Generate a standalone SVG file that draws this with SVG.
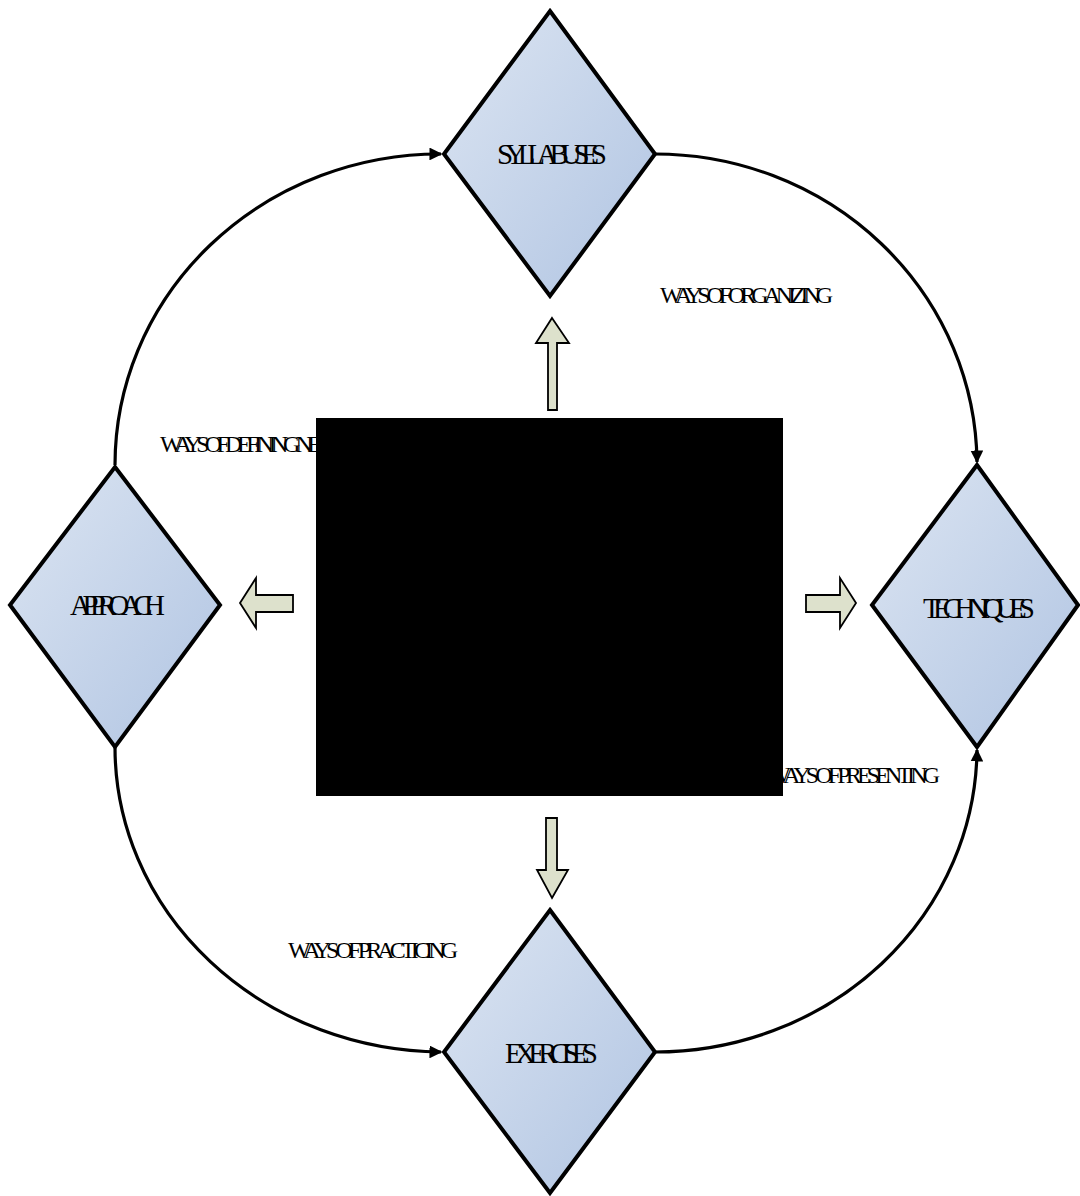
<svg xmlns="http://www.w3.org/2000/svg" width="1080" height="1196" viewBox="0 0 1080 1196">
<defs>
<linearGradient id="dg" x1="0" y1="0" x2="1" y2="1">
<stop offset="0" stop-color="#dce5f2"/>
<stop offset="1" stop-color="#b0c4e2"/>
</linearGradient>
<marker id="ah" viewBox="0 0 10 10" refX="9" refY="5" markerWidth="4" markerHeight="4" orient="auto" markerUnits="strokeWidth">
<path d="M0,0 L10,5 L0,10 Z" fill="#000"/>
</marker>
<style>
.dia{fill:url(#dg);stroke:#000;stroke-width:4;stroke-linejoin:miter}
.con{fill:none;stroke:#000;stroke-width:3.2}
.blk{fill:#dde1cc;stroke:#000;stroke-width:1.8}
.lbl{font-family:"Liberation Serif","Times New Roman",serif;font-size:29px;fill:#000}
.side{font-family:"Liberation Serif","Times New Roman",serif;font-size:24px;fill:#000}
</style>
</defs>
<rect width="1080" height="1196" fill="#fff"/>
<g id="connectors">
<path class="con" d="M115,465 A325,311 0 0 1 441,154" marker-end="url(#ah)"/>
<path class="con" d="M655,154 A322,311 0 0 1 977,462" marker-end="url(#ah)"/>
<path class="con" d="M115,747 A329,305 0 0 0 441,1052" marker-end="url(#ah)"/>
<path class="con" d="M655,1052 A322,305 0 0 0 977,750" marker-end="url(#ah)"/>
</g>
<g id="labels">
<text class="side" x="660" y="303" textLength="173" lengthAdjust="spacing">WAYS OF ORGANIZING</text>
<text class="side" x="160" y="452" textLength="162" lengthAdjust="spacing">WAYS OF DEFINING NE</text>
<text class="side" x="768" y="783" textLength="172" lengthAdjust="spacing">WAYS OF PRESENTING</text>
<text class="side" x="288" y="958" textLength="170" lengthAdjust="spacing">WAYS OF PRACTICING</text>
</g>
<g id="syllabuses">
<polygon class="dia" points="550,11 655,154 550,296 444,154"/>
<text class="lbl" x="497" y="164" textLength="110" lengthAdjust="spacing">SYLLABUSES</text>
</g>
<g id="approach">
<polygon class="dia" points="115,467 220,605 115,747 10,605"/>
<text class="lbl" x="70" y="615" textLength="95" lengthAdjust="spacing">APPROACH</text>
</g>
<g id="techniques">
<polygon class="dia" points="977,465 1078,605 977,747 872,605"/>
<text class="lbl" x="923" y="618" textLength="112" lengthAdjust="spacing">TECHNIQUES</text>
</g>
<g id="exercises">
<polygon class="dia" points="550,910 655,1052 550,1193 444,1052"/>
<text class="lbl" x="505" y="1063" textLength="93" lengthAdjust="spacing">EXERCISES</text>
</g>
<g id="block-arrows">
<polygon class="blk" points="552,318 569,343 557,343 557,410 548,410 548,343 536,343"/>
<polygon class="blk" points="552,898 568,870 557,870 557,818 546,818 546,870 537,870"/>
<polygon class="blk" points="240,603 256,578 256,595 293,595 293,612 256,612 256,628"/>
<polygon class="blk" points="856,603 840,578 840,595 806,595 806,612 840,612 840,628"/>
</g>
<g id="center">
<rect x="316" y="418" width="467" height="378" fill="#000"/>
</g>
</svg>
